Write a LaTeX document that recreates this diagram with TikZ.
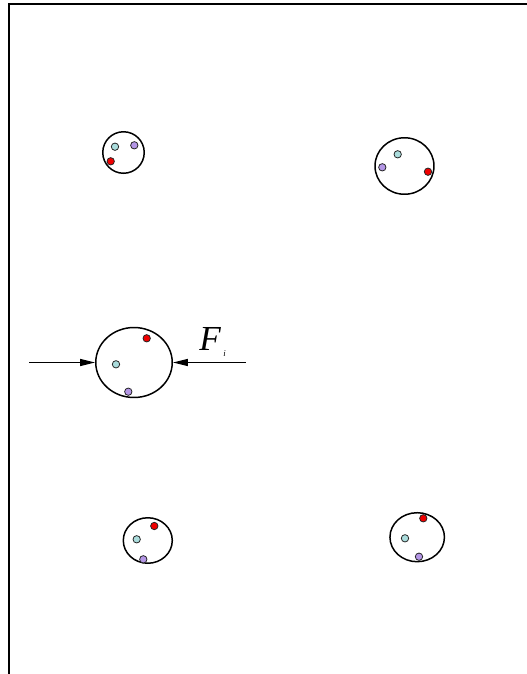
\documentclass[tikz,border=0pt]{standalone}
\usepackage{fontspec}
\setmainfont{Liberation Serif}
\usepackage{xcolor}
\usetikzlibrary{shapes.geometric,arrows.meta}
\definecolor{dotred}{HTML}{F00000}
\definecolor{dotcyan}{HTML}{AADCDC}
\definecolor{dotviolet}{HTML}{B496E6}

\begin{document}
\begin{tikzpicture}[x=0.02cm, y=-0.02cm, >={Triangle[length=8.5pt, width=4pt]},
    grain/.style={draw, ellipse, line width=0.85pt, inner sep=0pt},
    dot/.style={circle, draw=black!85, line width=0.45pt, minimum size=4.2pt,
                inner sep=0pt},
    force/.style={->, line width=0.8pt}]
  \useasboundingbox (0,0) rectangle (527,674);
  \draw[line width=1.1pt] (9,674) -- (9,4) -- (527,4);

  % grains
  \node[grain, minimum width=0.83cm, minimum height=0.83cm] (g1) at (123.5,152.5) {};
  \node[grain, minimum width=1.18cm, minimum height=1.13cm] (g2) at (404.5,166) {};
  \node[grain, minimum width=1.53cm, minimum height=1.40cm] (g3) at (134,362.5) {};
  \node[grain, minimum width=0.98cm, minimum height=0.91cm] (g4) at (147.8,540.5) {};
  \node[grain, minimum width=1.09cm, minimum height=0.98cm] (g5) at (417.2,537.2) {};

  % particles inside the grains
  \foreach \n/\x/\y in {a1/115/146.7, a2/397.7/154.3, a3/116/364.3,
                        a4/136.7/539.3, a5/405/538.3}
    \node[dot, fill=dotcyan] (\n) at (\x,\y) {};
  \foreach \n/\x/\y in {b1/134.3/145.3, b2/382.3/167.3, b3/128.3/391.7,
                        b4/143.3/559.3, b5/419/556.7}
    \node[dot, fill=dotviolet] (\n) at (\x,\y) {};
  \foreach \n/\x/\y in {c1/110.7/161.3, c2/428/171.7, c3/146.7/338.3,
                        c4/154.3/526, c5/423.3/518.3}
    \node[dot, fill=dotred] (\n) at (\x,\y) {};

  % compression on the middle grain
  \coordinate (fl) at (29,362.5);
  \coordinate (fr) at (245.7,362.5);
  \draw[force] (fl) -- (g3.west);
  \draw[force] (fr) -- (g3.east);
  \node[anchor=base west, inner sep=0pt] (fi) at (199,350)
       {\fontsize{20}{20}\selectfont\itshape F\hspace{1.5pt}\raisebox{-0.4ex}{\fontsize{5}{5}\selectfont i}};
\end{tikzpicture}
\end{document}
